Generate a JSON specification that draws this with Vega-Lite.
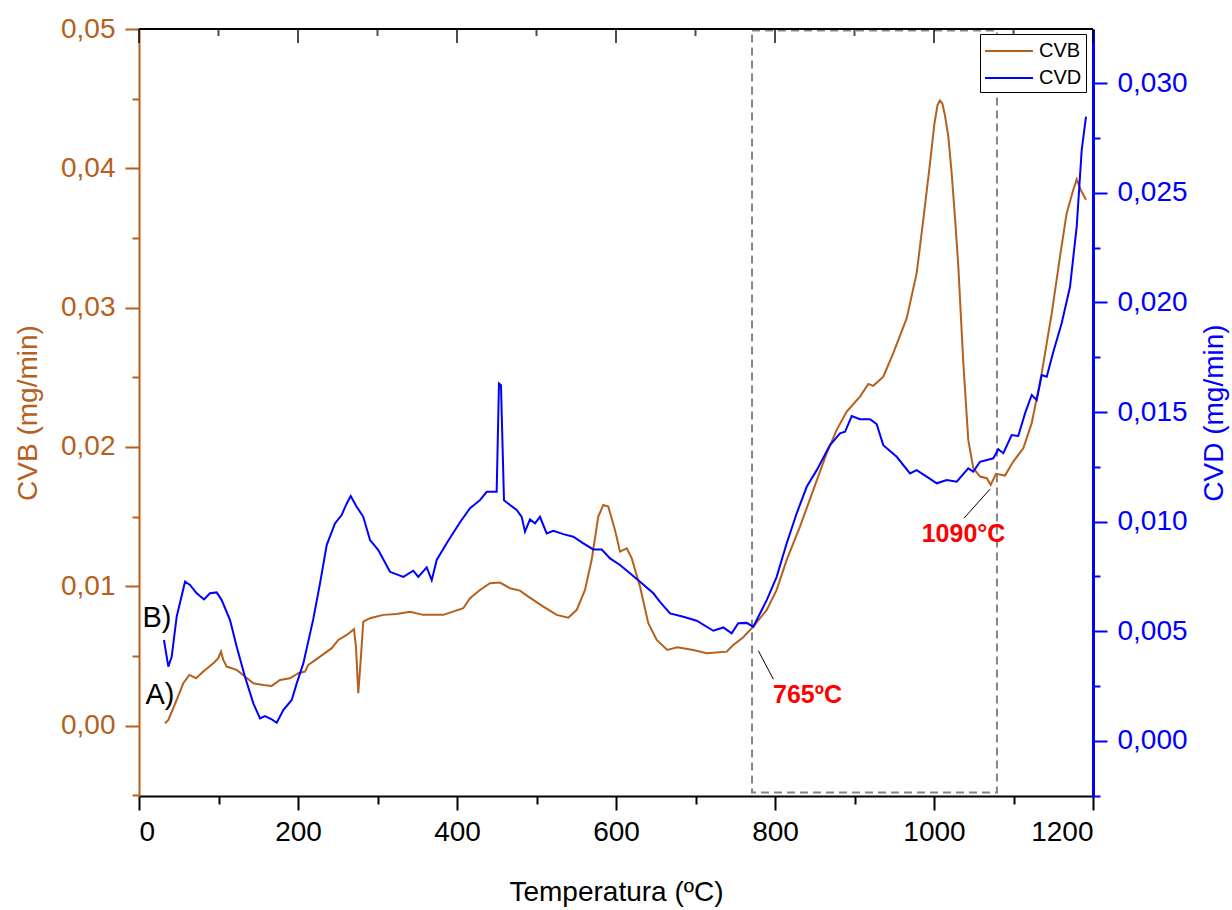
{
"$schema": "https://vega.github.io/schema/vega-lite/v6.json",
"width": 954, "height": 767,
"autosize": {"type": "none"},
"padding": {"left": 139, "top": 29, "right": 139, "bottom": 114},
"background": "white",
"config": {
  "view": {"stroke": null},
  "font": "Liberation Sans",
  "axis": {"labelFont": "Liberation Sans", "titleFont": "Liberation Sans", "grid": false, "labelFontSize": 28, "titleFontSize": 28, "titleFontWeight": "normal", "domainWidth": 2, "tickWidth": 2}
},
"datasets": {
  "cvb": [
{"t":32.7,"v":0.00017},{"t":36.9,"v":0.00041},{"t":47.4,"v":0.00185},{"t":55.7,"v":0.00304},{"t":63.3,"v":0.00364},{"t":71.7,"v":0.0034},{"t":80.9,"v":0.00388},{"t":93.5,"v":0.00448},{"t":99.7,"v":0.00484},{"t":103.1,"v":0.00531},{"t":106,"v":0.00472},{"t":110.3,"v":0.00424},{"t":122.9,"v":0.004},{"t":133.3,"v":0.00352},{"t":143.8,"v":0.00304},{"t":156.4,"v":0.00292},{"t":166.9,"v":0.00285},{"t":177.4,"v":0.00328},{"t":189.9,"v":0.0034},{"t":200.4,"v":0.00376},{"t":208.8,"v":0.00388},{"t":213,"v":0.00436},{"t":227.7,"v":0.00495},{"t":242.4,"v":0.00556},{"t":250.7,"v":0.00615},{"t":261.3,"v":0.00651},{"t":270.4,"v":0.00692},{"t":272.9,"v":0.00567},{"t":275.8,"v":0.00233},{"t":278.9,"v":0.00472},{"t":282.1,"v":0.00747},{"t":290.6,"v":0.00771},{"t":307.3,"v":0.00795},{"t":324.2,"v":0.00802},{"t":340.9,"v":0.00818},{"t":357.6,"v":0.00795},{"t":382.8,"v":0.00795},{"t":407.9,"v":0.00843},{"t":416.4,"v":0.00915},{"t":428.9,"v":0.00974},{"t":441.5,"v":0.01022},{"t":454.1,"v":0.01027},{"t":466.7,"v":0.00986},{"t":479.2,"v":0.00969},{"t":489.7,"v":0.00926},{"t":508.6,"v":0.00854},{"t":525.4,"v":0.00795},{"t":540,"v":0.00775},{"t":550.6,"v":0.00831},{"t":561,"v":0.00974},{"t":569.4,"v":0.0119},{"t":577.7,"v":0.015},{"t":584,"v":0.01584},{"t":590.3,"v":0.01572},{"t":598.7,"v":0.01405},{"t":605,"v":0.01249},{"t":613.5,"v":0.01273},{"t":619.7,"v":0.01202},{"t":630.2,"v":0.00998},{"t":640.6,"v":0.00735},{"t":651.2,"v":0.00615},{"t":664.5,"v":0.00543},{"t":677.2,"v":0.00563},{"t":697.2,"v":0.00543},{"t":714.1,"v":0.0052},{"t":739.2,"v":0.00531},{"t":747.5,"v":0.00579},{"t":760.1,"v":0.00635},{"t":772.7,"v":0.00711},{"t":789.6,"v":0.00831},{"t":802.1,"v":0.00974},{"t":814.7,"v":0.0119},{"t":831.4,"v":0.01429},{"t":848.2,"v":0.01692},{"t":865,"v":0.01955},{"t":877.6,"v":0.02123},{"t":890.2,"v":0.02254},{"t":906.9,"v":0.02362},{"t":917.4,"v":0.02453},{"t":923.6,"v":0.02439},{"t":936.2,"v":0.02505},{"t":948.8,"v":0.02673},{"t":965.7,"v":0.02925},{"t":978.2,"v":0.03248},{"t":986.5,"v":0.0363},{"t":995,"v":0.04037},{"t":1000.5,"v":0.0432},{"t":1004.5,"v":0.04455},{"t":1007.5,"v":0.04487},{"t":1010.5,"v":0.04465},{"t":1013.8,"v":0.0438},{"t":1018,"v":0.0423},{"t":1022.3,"v":0.0396},{"t":1026.5,"v":0.0364},{"t":1030.6,"v":0.03295},{"t":1036.9,"v":0.02602},{"t":1043.1,"v":0.02051},{"t":1049.4,"v":0.01848},{"t":1057.9,"v":0.01788},{"t":1066.3,"v":0.01776},{"t":1071.3,"v":0.01728},{"t":1078,"v":0.01807},{"t":1089.3,"v":0.01795},{"t":1099.7,"v":0.01895},{"t":1112.3,"v":0.01991},{"t":1122.9,"v":0.02171},{"t":1135.5,"v":0.0253},{"t":1148.1,"v":0.0296},{"t":1158.5,"v":0.03367},{"t":1166.9,"v":0.03678},{"t":1175.2,"v":0.03846},{"t":1179.5,"v":0.03922},{"t":1184.5,"v":0.03846},{"t":1191.2,"v":0.03774}
  ],
  "cvd": [
{"t":31.4,"v":0.0046},{"t":36.9,"v":0.00338},{"t":41.1,"v":0.00383},{"t":47.4,"v":0.00566},{"t":57.9,"v":0.00726},{"t":64.2,"v":0.00711},{"t":72.6,"v":0.00673},{"t":81.8,"v":0.00645},{"t":89.3,"v":0.00673},{"t":97.7,"v":0.00677},{"t":104,"v":0.00642},{"t":114.5,"v":0.00551},{"t":122.9,"v":0.00429},{"t":133.3,"v":0.00292},{"t":143.8,"v":0.00171},{"t":152.2,"v":0.00102},{"t":158.5,"v":0.00113},{"t":166.9,"v":0.00098},{"t":173.2,"v":0.00082},{"t":181.5,"v":0.0014},{"t":192.1,"v":0.00186},{"t":198.4,"v":0.00262},{"t":206.7,"v":0.00353},{"t":219.2,"v":0.00555},{"t":227.7,"v":0.00718},{"t":236.1,"v":0.00893},{"t":246.5,"v":0.00992},{"t":254.9,"v":0.0103},{"t":261.3,"v":0.01083},{"t":266.3,"v":0.01117},{"t":273.8,"v":0.01068},{"t":282.1,"v":0.01022},{"t":290.6,"v":0.00916},{"t":301,"v":0.0087},{"t":315.7,"v":0.00771},{"t":332.5,"v":0.00748},{"t":345,"v":0.00776},{"t":351.3,"v":0.00748},{"t":361.9,"v":0.00791},{"t":368.2,"v":0.00733},{"t":374.5,"v":0.00825},{"t":387,"v":0.00901},{"t":403.8,"v":0.00997},{"t":416.4,"v":0.01061},{"t":428.9,"v":0.01098},{"t":437.4,"v":0.01136},{"t":449.9,"v":0.01136},{"t":452.8,"v":0.01631},{"t":455.3,"v":0.01623},{"t":459.1,"v":0.01098},{"t":466.7,"v":0.01076},{"t":475.1,"v":0.01053},{"t":481.4,"v":0.01022},{"t":485.5,"v":0.00954},{"t":491.8,"v":0.0101},{"t":498.1,"v":0.00992},{"t":504.4,"v":0.01022},{"t":512.8,"v":0.00946},{"t":521.1,"v":0.00958},{"t":533.7,"v":0.00943},{"t":546.3,"v":0.00931},{"t":558.9,"v":0.00901},{"t":571.4,"v":0.00873},{"t":582,"v":0.00873},{"t":592.5,"v":0.00832},{"t":605,"v":0.00802},{"t":617.6,"v":0.00764},{"t":630.2,"v":0.00726},{"t":647,"v":0.00673},{"t":655.3,"v":0.00634},{"t":668,"v":0.00581},{"t":684.7,"v":0.00566},{"t":701.5,"v":0.00548},{"t":722.4,"v":0.00502},{"t":735,"v":0.00517},{"t":745.5,"v":0.0049},{"t":753.8,"v":0.00536},{"t":764.4,"v":0.00538},{"t":772.7,"v":0.0052},{"t":789.6,"v":0.00642},{"t":802.1,"v":0.00748},{"t":814.7,"v":0.00901},{"t":827.3,"v":0.01038},{"t":839.9,"v":0.01159},{"t":852.5,"v":0.01235},{"t":869.2,"v":0.01349},{"t":881.8,"v":0.01403},{"t":888.1,"v":0.0141},{"t":896.5,"v":0.01482},{"t":906.9,"v":0.01467},{"t":919.5,"v":0.01467},{"t":927.9,"v":0.01445},{"t":936.2,"v":0.01349},{"t":953.1,"v":0.01296},{"t":969.8,"v":0.0122},{"t":978.2,"v":0.01235},{"t":990.8,"v":0.01205},{"t":1003.4,"v":0.01175},{"t":1016,"v":0.0119},{"t":1028.6,"v":0.01182},{"t":1043.1,"v":0.01243},{"t":1049.4,"v":0.01228},{"t":1057.9,"v":0.01273},{"t":1074.6,"v":0.01289},{"t":1080.9,"v":0.0133},{"t":1087.2,"v":0.01312},{"t":1097.7,"v":0.01395},{"t":1106,"v":0.01391},{"t":1114.5,"v":0.01494},{"t":1122.9,"v":0.01578},{"t":1129.2,"v":0.01555},{"t":1135.5,"v":0.01669},{"t":1141.8,"v":0.01661},{"t":1150.1,"v":0.01775},{"t":1160.6,"v":0.01905},{"t":1171.1,"v":0.02072},{"t":1179.5,"v":0.02346},{"t":1185.8,"v":0.02696},{"t":1191.2,"v":0.02848}
  ],
  "box": [{"t":771.1,"t2":1079.2,"v":-0.0048,"v2":0.0499}],
  "majorTicks": [{"t":0},{"t":200},{"t":400},{"t":600},{"t":800},{"t":1000},{"t":1200}],
  "minorTicks": [{"t":100},{"t":300},{"t":500},{"t":700},{"t":900},{"t":1100}],
  "leaders": [{"t":779,"v":0.00538,"t2":797.9,"v2":0.00333},{"t":1070.4,"v":0.01697,"t2":1037.7,"v2":0.01489}],
  "temps": [{"t":840.9,"v":0.0022,"label":"765ºC"},{"t":1037.1,"v":0.01376,"label":"1090°C"}],
  "tags": [{"t":22.6,"v":0.00773,"label":"B)"},{"t":26.4,"v":0.0022,"label":"A)"}]
},
"layer": [
  {
    "layer": [
      {
        "data": {"name": "box"},
        "mark": {"type": "rect", "fill": null, "stroke": "#858585", "strokeDash": [8, 5], "strokeWidth": 2},
        "encoding": {
          "x": {"field": "t", "type": "quantitative", "scale": {"domain": [0, 1200], "nice": false, "zero": false},
                "axis": {"orient": "bottom", "title": "Temperatura (ºC)", "values": [0,100,200,300,400,500,600,700,800,900,1000,1100,1200],
                         "labelExpr": "datum.value % 200 === 0 ? format(datum.value, 'd') : ''", "domainColor": "black", "tickColor": "black", "labelColor": "black", "titleColor": "black",
                         "tickSize": {"condition": {"test": "datum.value % 200 === 0", "value": 14}, "value": 8}, "labelPadding": 8, "titlePadding": 32}},
          "x2": {"field": "t2"},
          "y": {"field": "v", "type": "quantitative", "scale": {"domain": [-0.00505, 0.05], "nice": false, "zero": false},
                "axis": {"orient": "left", "title": "CVB (mg/min)", "values": [-0.005,0,0.005,0.01,0.015,0.02,0.025,0.03,0.035,0.04,0.045,0.05],
                         "labelExpr": "abs(datum.value*100 - round(datum.value*100)) < 0.01 ? replace(format(datum.value, '.2f'), '.', ',') : ''",
                         "domainColor": "#b5601c", "tickColor": "#b5601c", "labelColor": "#b5601c", "titleColor": "#b5601c",
                         "tickSize": {"condition": {"test": "abs(datum.value*100 - round(datum.value*100)) < 0.01", "value": 14}, "value": 7}, "labelPadding": 10, "titlePadding": 18}},
          "y2": {"field": "v2"}
        }
      },
      {
        "data": {"name": "box"},
        "mark": {"type": "rule", "color": "black", "strokeWidth": 2},
        "encoding": {"y": {"datum": 0.05}}
      },
      {
        "data": {"name": "majorTicks"},
        "mark": {"type": "tick", "color": "black", "orient": "vertical", "size": 14, "thickness": 2, "yOffset": 7},
        "encoding": {"x": {"field": "t", "type": "quantitative"}, "y": {"datum": 0.05}}
      },
      {
        "data": {"name": "minorTicks"},
        "mark": {"type": "tick", "color": "black", "orient": "vertical", "size": 7, "thickness": 2, "yOffset": 3.5},
        "encoding": {"x": {"field": "t", "type": "quantitative"}, "y": {"datum": 0.05}}
      },
      {
        "data": {"name": "cvb"},
        "mark": {"type": "line", "strokeWidth": 2},
        "encoding": {
          "x": {"field": "t", "type": "quantitative"},
          "y": {"field": "v", "type": "quantitative"},
          "color": {"datum": "CVB", "scale": {"domain": ["CVB", "CVD"], "range": ["#b5601c", "#0000ff"]},
                    "legend": {"orient": "none", "legendX": 841, "legendY": 5, "title": null, "strokeColor": "black", "fillColor": "white", "padding": 4,
                               "symbolType": "M-2,0L2,0", "symbolSize": 576, "symbolStrokeWidth": 2, "symbolOffset": 12, "labelFontSize": 20, "labelFont": "Liberation Sans", "labelColor": "black", "labelOffset": 17, "rowPadding": 4}}
        }
      },
      {
        "data": {"name": "leaders"},
        "mark": {"type": "rule", "color": "black", "strokeWidth": 1},
        "encoding": {"x": {"field": "t", "type": "quantitative"}, "x2": {"field": "t2"}, "y": {"field": "v", "type": "quantitative"}, "y2": {"field": "v2"}}
      },
      {
        "data": {"name": "temps"},
        "mark": {"type": "text", "color": "#ff0000", "fontWeight": "bold", "fontSize": 25, "font": "Liberation Sans", "align": "center", "baseline": "middle"},
        "encoding": {"x": {"field": "t", "type": "quantitative"}, "y": {"field": "v", "type": "quantitative"}, "text": {"field": "label"}}
      },
      {
        "data": {"name": "tags"},
        "mark": {"type": "text", "color": "black", "fontSize": 29, "font": "Liberation Sans", "align": "center", "baseline": "middle"},
        "encoding": {"x": {"field": "t", "type": "quantitative"}, "y": {"field": "v", "type": "quantitative"}, "text": {"field": "label"}}
      }
    ]
  },
  {
    "data": {"name": "cvd"},
    "mark": {"type": "line", "strokeWidth": 2},
    "encoding": {
      "x": {"field": "t", "type": "quantitative", "scale": {"domain": [0, 1200], "nice": false, "zero": false}, "axis": null},
      "y": {"field": "v", "type": "quantitative", "scale": {"domain": [-0.00252, 0.03248], "nice": false, "zero": false},
            "axis": {"orient": "right", "title": "CVD (mg/min)", "titleAngle": 270, "values": [-0.0025,0,0.0025,0.005,0.0075,0.01,0.0125,0.015,0.0175,0.02,0.0225,0.025,0.0275,0.03],
                     "labelExpr": "abs(datum.value*200 - round(datum.value*200)) < 0.01 ? replace(format(datum.value, '.3f'), '.', ',') : ''",
                     "domainColor": "#0000ff", "domainWidth": 3, "tickColor": "#0000ff", "labelColor": "#0000ff", "titleColor": "#0000ff",
                     "tickSize": {"condition": {"test": "abs(datum.value*200 - round(datum.value*200)) < 0.01", "value": 14}, "value": 7}, "labelPadding": 10, "titlePadding": 41}},
      "color": {"datum": "CVD"}
    }
  }
],
"resolve": {"scale": {"x": "independent", "y": "independent"}, "axis": {"x": "independent", "y": "independent"}}
}
